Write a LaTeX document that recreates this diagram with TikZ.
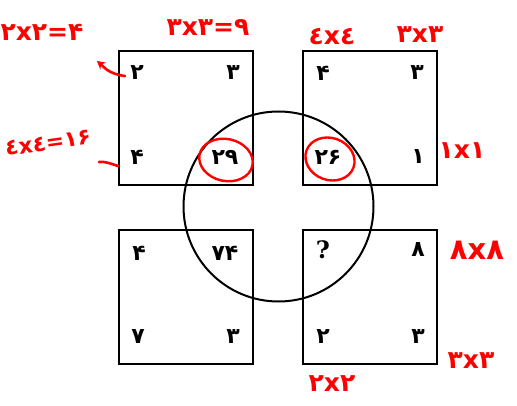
\documentclass[tikz,border=0pt]{standalone}
\usepackage{fontspec}
\newfontfamily\df{DejaVu Sans}
\newfontfamily\dserif{DejaVu Serif}
\usetikzlibrary{arrows.meta,shapes.geometric}
\begin{document}
\begin{tikzpicture}[x=1pt,y=-1pt,
  sq/.style={draw,line width=2pt,minimum size=134pt,inner sep=0pt},
  num/.style={font=\df\bfseries\fontsize{22}{22}\selectfont,inner sep=0pt},
  hand/.style={text=red,font=\df\bfseries\fontsize{25}{25}\selectfont,inner sep=0pt},
  redline/.style={draw=red,line width=2.6pt,line cap=round},
  ring/.style={draw=red,line width=2.4pt}]
\useasboundingbox[fill=white] (0,0) rectangle (517,406);
% squares
\node[sq] (tl) at (185.5,118.5) {};
\node[sq] (tr) at (370,118.5) {};
\node[sq] (bl) at (185.5,297) {};
\node[sq] (br) at (370,297) {};
% circle
\node[draw,circle,line width=2pt,minimum size=190pt,inner sep=0pt] (c) at (278.5,206.5) {};
% numbers
\node[num] (a1) at (137,73) {۲};
\node[num] (a2) at (233,73) {۳};
\node[num] (a3) at (137,157) {۴};
\node[num] (a4) at (225,157) {۲۹};
\node[num] (b1) at (323,73) {۴};
\node[num] (b2) at (417,73) {۳};
\node[num] (b3) at (328,157) {۲۶};
\node[num] (b4) at (418,157) {۱};
\node[num] (c1) at (139,253) {۴};
\node[num] (c2) at (225,253) {۷۴};
\node[num] (c3) at (138,337) {۷};
\node[num] (c4) at (233,337) {۳};
\node[font=\dserif\bfseries\fontsize{24}{24}\selectfont,inner sep=0pt] (d1) at (323,250) {?};
\node[num] (d2) at (418,250) {۸};
\node[num] (d3) at (323,337) {۲};
\node[num] (d4) at (418,337) {۳};
% red rings
\node[ring,ellipse,minimum width=54pt,minimum height=42pt,rotate=-12] (r1) at (226,160) {};
\node[ring,ellipse,minimum width=50pt,minimum height=42pt,rotate=-20] (r2) at (330,159) {};
% red annotations
\node[hand] (h1) at (42,32) {۲x۲=۴};
\node[hand] (h2) at (208,28) {۳x۳=۹};
\node[hand,rotate=8,font=\df\bfseries\fontsize{22}{22}\selectfont] (h3) at (48,143) {٤x٤=۱۶};
\node[hand] (h4) at (332,37) {٤x٤};
\node[hand] (h5) at (420,35) {۳x۳};
\node[hand] (h6) at (462,151) {۱x۱};
\node[hand,font=\df\bfseries\fontsize{29}{29}\selectfont] (h7) at (477,250) {۸x۸};
\node[hand] (h8) at (471,361) {۳x۳};
\node[hand] (h9) at (332,384) {۲x۲};
% red strokes
\coordinate (q1) at (125,76);
\coordinate (p1) at (97,61);
\coordinate (q2) at (118,166);
\coordinate (p2) at (99,162);
\draw[redline,-{Stealth[length=8pt,width=9pt]}] (q1) .. controls (108,74) and (103,66) .. (p1);
\draw[redline] (q2) .. controls (112,164) and (104,161) .. (p2);
\end{tikzpicture}
\end{document}
